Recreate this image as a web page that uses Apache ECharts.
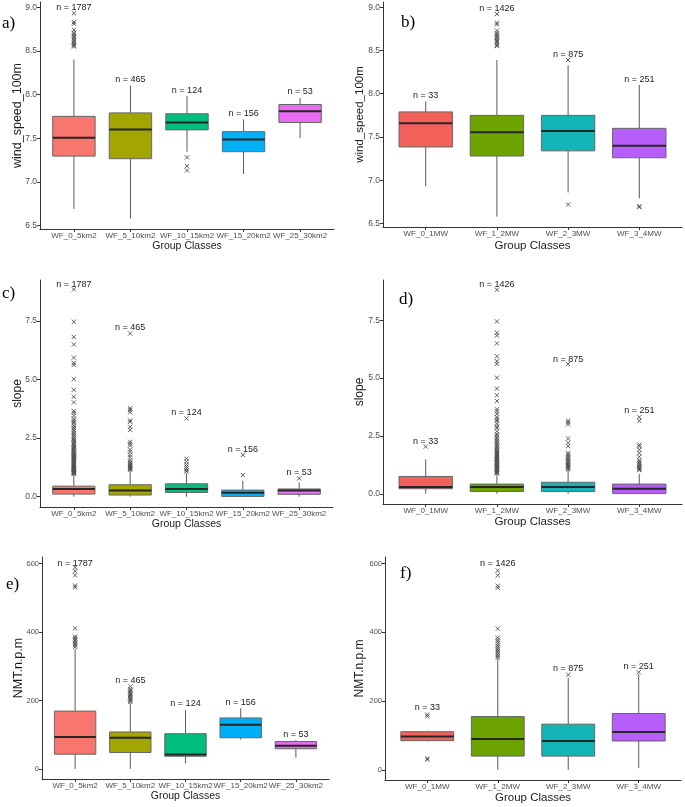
<!DOCTYPE html>
<html>
<head>
<meta charset="utf-8">
<script src="https://cdn.jsdelivr.net/npm/echarts@6/dist/echarts.min.js"></script>
<style>
html, body { margin: 0; padding: 0; background: #fff; }
#main { width: 685px; height: 807px; }
</style>
</head>
<body>
<div id="main"></div>
<script>
// group classes
var areaClasses = ['WF_0_5km2', 'WF_5_10km2', 'WF_10_15km2', 'WF_15_20km2', 'WF_25_30km2'];
var powerClasses = ['WF_0_1MW', 'WF_1_2MW', 'WF_2_3MW', 'WF_3_4MW'];
var areaCounts = ['n = 1787', 'n = 465', 'n = 124', 'n = 156', 'n = 53'];
var powerCounts = ['n = 33', 'n = 1426', 'n = 875', 'n = 251'];
var areaColors = ['#F8766D', '#A3A500', '#00BF7D', '#00B0F6', '#E76BF3'];
var powerColors = ['#F2625A', '#6CA300', '#14B5B6', '#B65EF9'];

// y ticks
var windTicks = [6.5, 7.0, 7.5, 8.0, 8.5, 9.0];
var slopeTicks = [0, 2.5, 5, 7.5];
var nmtTicks = [0, 200, 400, 600];

// boxes: [lower whisker, q1, median, q3, upper whisker]
var windAreaBoxes = [
    [6.69, 7.295, 7.505, 7.75, 8.40],
    [6.58, 7.265, 7.60, 7.79, 8.10],
    [7.345, 7.595, 7.68, 7.78, 7.985],
    [7.09, 7.345, 7.485, 7.575, 7.715],
    [7.50, 7.68, 7.81, 7.886, 7.96]
];
var windAreaOutliers = [
    [0, 8.93], [0, 8.83], [0, 8.81], [0, 8.74], [0, 8.71], [0, 8.69], [0, 8.67], [0, 8.66],
    [0, 8.64], [0, 8.62], [0, 8.61], [0, 8.59], [0, 8.57], [0, 8.56], [0, 8.55],
    [2, 7.28], [2, 7.18], [2, 7.13]
];
var windAreaCountY = [9.0, 8.17, 8.05, 7.78, 8.03];

var windPowerBoxes = [
    [6.93, 7.385, 7.66, 7.79, 7.91],
    [6.58, 7.28, 7.555, 7.75, 8.39],
    [6.86, 7.34, 7.57, 7.75, 8.33],
    [6.79, 7.26, 7.40, 7.60, 8.10]
];
var windPowerOutliers = [
    [1, 8.92], [1, 8.82], [1, 8.80], [1, 8.73], [1, 8.70], [1, 8.68], [1, 8.66], [1, 8.65],
    [1, 8.63], [1, 8.61], [1, 8.60], [1, 8.58], [1, 8.56], [1, 8.55],
    [2, 8.39], [2, 6.72], [3, 6.69], [3, 6.70]
];
var windPowerCountY = [7.98, 8.99, 8.45, 8.17];

var slopeAreaBoxes = [
    [0, 0.11, 0.33, 0.45, 0.95],
    [0, 0.07, 0.26, 0.51, 1.14],
    [0, 0.18, 0.33, 0.55, 0.99],
    [0, 0.01, 0.17, 0.28, 0.68],
    [0, 0.10, 0.26, 0.33, 0.60]
];
var slopeAreaOutliers = [
    [0, 0.97], [0, 0.99], [0, 1.02], [0, 1.05], [0, 1.07], [0, 1.11], [0, 1.14], [0, 1.16],
    [0, 1.19], [0, 1.23], [0, 1.26], [0, 1.29], [0, 1.31], [0, 1.35], [0, 1.38], [0, 1.41],
    [0, 1.44], [0, 1.47], [0, 1.52], [0, 1.55], [0, 1.58], [0, 1.62], [0, 1.66], [0, 1.69],
    [0, 1.73], [0, 1.77], [0, 1.80], [0, 1.84], [0, 1.89], [0, 1.93], [0, 1.97], [0, 2.02],
    [0, 2.07], [0, 2.11], [0, 2.16], [0, 2.21], [0, 2.27], [0, 2.32], [0, 2.38], [0, 2.43],
    [0, 2.49], [0, 2.56], [0, 2.63], [0, 2.71], [0, 2.79], [0, 2.86], [0, 2.93], [0, 3.02],
    [0, 3.12], [0, 3.18], [0, 3.25], [0, 3.33], [0, 3.46], [0, 3.58], [0, 3.66], [0, 4.02],
    [0, 4.26], [0, 4.56], [0, 5.01], [0, 5.62], [0, 5.71], [0, 5.93], [0, 6.49], [0, 6.81],
    [0, 7.46], [0, 8.84],
    [1, 1.15], [1, 1.18], [1, 1.22], [1, 1.25], [1, 1.29], [1, 1.33], [1, 1.37], [1, 1.42],
    [1, 1.47], [1, 1.55], [1, 1.68], [1, 1.79], [1, 1.92], [1, 2.01], [1, 2.18], [1, 2.26],
    [1, 2.34], [1, 2.85], [1, 2.98], [1, 3.19], [1, 3.25], [1, 3.60], [1, 3.70], [1, 3.77],
    [1, 6.96],
    [2, 1.07], [2, 1.13], [2, 1.20], [2, 1.28], [2, 1.37], [2, 1.49], [2, 1.62], [2, 3.34],
    [3, 0.92], [3, 1.78],
    [4, 0.78]
];
var slopeAreaCountY = [9.06, 7.2, 3.58, 2.02, 1.02];

var slopePowerBoxes = [
    [0, 0.22, 0.29, 0.75, 1.49],
    [0, 0.10, 0.29, 0.42, 0.85],
    [0, 0.10, 0.29, 0.50, 1.03],
    [0, 0.01, 0.22, 0.42, 0.85]
];
var slopePowerOutliers = [
    [0, 2.04],
    [1, 0.88], [1, 0.91], [1, 0.94], [1, 0.98], [1, 1.01], [1, 1.05], [1, 1.09], [1, 1.12],
    [1, 1.16], [1, 1.20], [1, 1.24], [1, 1.27], [1, 1.31], [1, 1.35], [1, 1.39], [1, 1.43],
    [1, 1.46], [1, 1.50], [1, 1.54], [1, 1.59], [1, 1.63], [1, 1.67], [1, 1.72], [1, 1.76],
    [1, 1.81], [1, 1.86], [1, 1.91], [1, 1.97], [1, 2.03], [1, 2.09], [1, 2.15], [1, 2.21],
    [1, 2.28], [1, 2.35], [1, 2.42], [1, 2.51], [1, 2.58], [1, 2.70], [1, 2.84], [1, 2.91],
    [1, 3.03], [1, 3.14], [1, 3.22], [1, 3.31], [1, 3.45], [1, 3.56], [1, 3.65], [1, 4.01],
    [1, 4.26], [1, 4.55], [1, 5.02], [1, 5.62], [1, 5.73], [1, 5.94], [1, 6.50], [1, 6.84],
    [1, 6.96], [1, 7.45], [1, 8.82],
    [2, 1.06], [2, 1.10], [2, 1.15], [2, 1.19], [2, 1.24], [2, 1.29], [2, 1.34], [2, 1.40],
    [2, 1.45], [2, 1.51], [2, 1.57], [2, 1.63], [2, 1.70], [2, 1.77], [2, 2.06], [2, 2.21],
    [2, 2.39], [2, 3.00], [2, 3.09], [2, 3.16], [2, 5.61],
    [3, 1.02], [3, 1.06], [3, 1.10], [3, 1.15], [3, 1.20], [3, 1.26], [3, 1.32], [3, 1.38],
    [3, 1.45], [3, 1.60], [3, 1.76], [3, 1.91], [3, 2.05], [3, 2.12], [3, 3.16], [3, 3.31]
];
var slopePowerCountY = [2.26, 9.05, 5.82, 3.59];

var nmtAreaBoxes = [
    [0, 43, 93, 169, 350],
    [0, 48, 91, 108, 193],
    [16, 37, 42, 103, 172],
    [86, 91, 129, 149, 177],
    [33, 59, 68, 80, 84]
];
var nmtAreaOutliers = [
    [0, 356], [0, 361], [0, 365], [0, 369], [0, 374], [0, 378], [0, 383], [0, 387],
    [0, 411], [0, 531], [0, 536], [0, 566], [0, 578], [0, 589],
    [1, 196], [1, 199], [1, 203], [1, 206], [1, 210], [1, 214], [1, 217], [1, 221],
    [1, 225], [1, 229], [1, 233], [1, 241]
];
var nmtAreaCountY = [600, 259, 190, 193, 100];

var nmtPowerBoxes = [
    [83, 85, 97, 111, 114],
    [0, 40, 90, 155, 322],
    [0, 40, 84, 133, 268],
    [5, 84, 110, 164, 278]
];
var nmtPowerOutliers = [
    [0, 156], [0, 161], [0, 30], [0, 33],
    [1, 326], [1, 331], [1, 336], [1, 341], [1, 346], [1, 351], [1, 357], [1, 362],
    [1, 368], [1, 374], [1, 379], [1, 385], [1, 411], [1, 530], [1, 536], [1, 566], [1, 580],
    [2, 277],
    [3, 284]
];
var nmtPowerCountY = [181, 600, 294, 301];

var myChart = echarts.init(document.getElementById('main'));

var FONT = 'Liberation Sans';

// one entry per panel: layout + which arrays to use
var panels = [
    { grid: { left: 40, top: 2, width: 294, height: 227 }, classes: areaClasses, colors: areaColors,
      boxes: windAreaBoxes, outliers: windAreaOutliers, counts: areaCounts, countY: windAreaCountY,
      yName: 'wind_speed_100m', yMin: 6.46, yMax: 9.06, ticks: windTicks, digits: 1, tickSize: 8.5,
      yGap: 16, yNameSize: 12.5, xGap: 12, titleSize: 10.5, catSize: 8, letter: 'a)', lx: 2, ly: 23 },
    { grid: { left: 383, top: 2, width: 299, height: 225 }, classes: powerClasses, colors: powerColors,
      boxes: windPowerBoxes, outliers: windPowerOutliers, counts: powerCounts, countY: windPowerCountY,
      yName: 'wind_speed_100m', yMin: 6.46, yMax: 9.06, ticks: windTicks, digits: 1, tickSize: 8.5,
      yGap: 17, yNameSize: 11.5, xGap: 13, titleSize: 11.5, catSize: 8, letter: 'b)', lx: 401, ly: 22 },
    { grid: { left: 40, top: 280, width: 293, height: 227 }, classes: areaClasses, colors: areaColors,
      boxes: slopeAreaBoxes, outliers: slopeAreaOutliers, counts: areaCounts, countY: slopeAreaCountY,
      yName: 'slope', yMin: -0.44, yMax: 9.24, ticks: slopeTicks, digits: 1, tickSize: 8.5,
      yGap: 16, yNameSize: 12, xGap: 11, titleSize: 10.5, catSize: 8, letter: 'c)', lx: 2, ly: 293 },
    { grid: { left: 383, top: 280, width: 299, height: 224 }, classes: powerClasses, colors: powerColors,
      boxes: slopePowerBoxes, outliers: slopePowerOutliers, counts: powerCounts, countY: slopePowerCountY,
      yName: 'slope', yMin: -0.44, yMax: 9.24, ticks: slopeTicks, digits: 1, tickSize: 8.5,
      yGap: 17, yNameSize: 12, xGap: 12, titleSize: 11.5, catSize: 8, letter: 'd)', lx: 399, ly: 299 },
    { grid: { left: 42, top: 557, width: 287, height: 222 }, classes: areaClasses, colors: areaColors,
      boxes: nmtAreaBoxes, outliers: nmtAreaOutliers, counts: areaCounts, countY: nmtAreaCountY,
      yName: 'NMT.n.p.m', yMin: -29.5, yMax: 619.5, ticks: nmtTicks, digits: 0, tickSize: 7.5,
      yGap: 17, yNameSize: 12.5, xGap: 11, titleSize: 10.5, catSize: 8, letter: 'e)', lx: 6, ly: 584 },
    { grid: { left: 385, top: 557, width: 296, height: 223 }, classes: powerClasses, colors: powerColors,
      boxes: nmtPowerBoxes, outliers: nmtPowerOutliers, counts: powerCounts, countY: nmtPowerCountY,
      yName: 'NMT.n.p.m', yMin: -29.5, yMax: 619.5, ticks: nmtTicks, digits: 0, tickSize: 7.5,
      yGap: 19, yNameSize: 12, xGap: 12, titleSize: 11.5, catSize: 8, letter: 'f)', lx: 400, ly: 573 }
];

function boxRenderer(colors) {
    return function (params, api) {
        var x = api.value(0);
        var lo = api.coord([x, api.value(1)]);
        var q1 = api.coord([x, api.value(2)]);
        var md = api.coord([x, api.value(3)]);
        var q3 = api.coord([x, api.value(4)]);
        var hi = api.coord([x, api.value(5)]);
        var w = api.size([1, 0])[0] * 0.75;
        var cx = q1[0];
        return {
            type: 'group',
            children: [
                { type: 'line', shape: { x1: cx, y1: lo[1], x2: cx, y2: q1[1] },
                  style: { stroke: '#5a5a5a', lineWidth: 1 } },
                { type: 'line', shape: { x1: cx, y1: q3[1], x2: cx, y2: hi[1] },
                  style: { stroke: '#5a5a5a', lineWidth: 1 } },
                { type: 'rect', shape: { x: cx - w / 2, y: q3[1], width: w, height: Math.max(q1[1] - q3[1], 1) },
                  style: { fill: colors[params.dataIndex], stroke: '#666', lineWidth: 1 } },
                { type: 'line', shape: { x1: cx - w / 2, y1: md[1], x2: cx + w / 2, y2: md[1] },
                  style: { stroke: '#262626', lineWidth: 2 } }
            ]
        };
    };
}

function crossRenderer(params, api) {
    var c = api.coord([api.value(0), api.value(1)]);
    var s = 2.1;
    return {
        type: 'group',
        children: [
            { type: 'line', shape: { x1: c[0] - s, y1: c[1] - s, x2: c[0] + s, y2: c[1] + s },
              style: { stroke: '#4d4d4d', lineWidth: 0.9 } },
            { type: 'line', shape: { x1: c[0] - s, y1: c[1] + s, x2: c[0] + s, y2: c[1] - s },
              style: { stroke: '#4d4d4d', lineWidth: 0.9 } }
        ]
    };
}

function countRenderer(counts) {
    return function (params, api) {
        var c = api.coord([api.value(0), api.value(1)]);
        return {
            type: 'text',
            style: {
                text: counts[params.dataIndex], x: c[0], y: c[1],
                align: 'center', verticalAlign: 'middle',
                fill: '#1a1a1a', font: '9px "' + FONT + '"'
            }
        };
    };
}

var option = { animation: false, backgroundColor: '#fff', grid: [], xAxis: [], yAxis: [], series: [], graphic: [] };

panels.forEach(function (p, k) {
    var idx = p.classes.map(function (c, i) { return i; });
    option.grid.push(p.grid);
    option.xAxis.push({
        type: 'value', gridIndex: k, min: -0.6, max: p.classes.length - 0.4,
        name: 'Group Classes', nameLocation: 'middle', nameGap: p.xGap,
        nameTextStyle: { color: '#1a1a1a', fontSize: p.titleSize, fontFamily: FONT },
        axisLine: { show: true, onZero: false, lineStyle: { color: '#333', width: 1 } },
        axisTick: { show: true, length: 3, customValues: idx, lineStyle: { color: '#333' } },
        axisLabel: {
            customValues: idx, margin: 3, color: '#4d4d4d', fontSize: p.catSize, fontFamily: FONT,
            showMinLabel: true, showMaxLabel: true, hideOverlap: false,
            formatter: function (v) { return p.classes[Math.round(v)]; }
        },
        splitLine: { show: false }
    });
    option.yAxis.push({
        type: 'value', gridIndex: k, min: p.yMin, max: p.yMax,
        name: p.yName, nameLocation: 'middle', nameGap: p.yGap, nameMoveOverlap: false,
        nameTextStyle: { color: '#1a1a1a', fontSize: p.yNameSize, fontFamily: FONT },
        axisLine: { show: true, onZero: false, lineStyle: { color: '#333', width: 1 } },
        axisTick: { show: true, length: 3, customValues: p.ticks, lineStyle: { color: '#333' } },
        axisLabel: {
            customValues: p.ticks, margin: 3, color: '#4d4d4d', fontSize: p.tickSize, fontFamily: FONT,
            formatter: function (v) { return v.toFixed(p.digits); }
        },
        splitLine: { show: false }
    });
    option.series.push({
        type: 'custom', xAxisIndex: k, yAxisIndex: k, silent: true,
        renderItem: boxRenderer(p.colors),
        encode: { x: 0, y: [1, 2, 3, 4, 5] },
        data: p.boxes.map(function (b, i) { return [i].concat(b); })
    });
    option.series.push({
        type: 'custom', xAxisIndex: k, yAxisIndex: k, silent: true,
        renderItem: crossRenderer,
        encode: { x: 0, y: 1 },
        data: p.outliers
    });
    option.series.push({
        type: 'custom', xAxisIndex: k, yAxisIndex: k, silent: true, clip: false,
        renderItem: countRenderer(p.counts),
        encode: { x: 0, y: 1 },
        data: p.countY.map(function (y, i) { return [i, y]; })
    });
    option.graphic.push({
        type: 'text', left: p.lx, top: p.ly - 8,
        style: { text: p.letter, fill: '#000', font: '17px "Liberation Serif"' }
    });
});

myChart.setOption(option);

window.addEventListener('resize', function () {
    myChart.resize();
});
</script>
</body>
</html>
